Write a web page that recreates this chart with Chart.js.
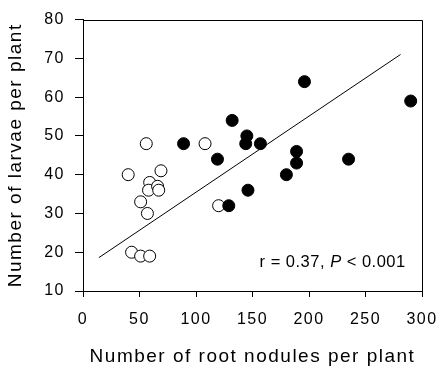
<!DOCTYPE html>
<html>
<head>
<meta charset="utf-8">
<script src="https://cdn.jsdelivr.net/npm/chart.js@4"></script>
<style>
  html, body { margin: 0; padding: 0; background: #fff; }
  canvas { display: block; }
</style>
</head>
<body>
<canvas id="nodChart" width="437" height="370"></canvas>
<script>
// open circles
const openX = [56, 108, 40, 69, 59, 58, 66, 67, 51, 57, 120, 43, 51, 59];
const openY = [48, 48, 40, 41, 38, 36, 37, 36, 33, 30, 32, 20, 19, 19];
// filled circles
const filledX = [89, 119, 132, 145, 144, 157, 129, 146, 196, 189, 189, 180, 235, 290];
const filledY = [48, 44, 54, 50, 48, 48, 32, 36, 64, 46, 43, 40, 44, 59];
// regression line ends
const fitX = [14, 281];
const fitY = [18.6, 71];

const xTicks = [0, 50, 100, 150, 200, 250, 300];
const yTicks = [10, 20, 30, 40, 50, 60, 70, 80];

const FONT = '"Liberation Sans", Arial, sans-serif';

function toPoints(xs, ys) {
    return xs.map((x, i) => ({ x: x, y: ys[i] }));
}

// letter spacing like the scanned figure
const spacingPlugin = {
    id: 'spacing',
    beforeUpdate(chart) { chart.ctx.letterSpacing = '1.5px'; },
    beforeDraw(chart) { chart.ctx.letterSpacing = '1.5px'; }
};

const framePlugin = {
    id: 'frame',
    beforeDatasetsDraw(chart) {
        const a = chart.chartArea;
        const ctx = chart.ctx;
        ctx.save();
        ctx.strokeStyle = '#000';
        ctx.lineWidth = 1;
        ctx.beginPath();
        ctx.moveTo(Math.round(a.left) + 0.5, Math.round(a.top) + 0.5);
        ctx.lineTo(Math.round(a.right) + 0.5, Math.round(a.top) + 0.5);
        ctx.lineTo(Math.round(a.right) + 0.5, Math.round(a.bottom) + 0.5);
        ctx.stroke();
        ctx.restore();
    }
};

const notePlugin = {
    id: 'note',
    afterDraw(chart) {
        const ctx = chart.ctx;
        const xs = chart.scales.x, ys = chart.scales.y;
        const right = xs.getPixelForValue(285.6);
        const base = ys.getPixelForValue(16.1);
        ctx.save();
        ctx.letterSpacing = '0.5px';
        ctx.fillStyle = '#000';
        ctx.textBaseline = 'alphabetic';
        ctx.textAlign = 'left';
        const parts = [
            { t: 'r = 0.37, ', f: '16.5px ' + FONT },
            { t: 'P', f: 'italic 16.5px ' + FONT },
            { t: ' < 0.001', f: '16.5px ' + FONT }
        ];
        let w = 0;
        parts.forEach(p => { ctx.font = p.f; p.w = ctx.measureText(p.t).width; w += p.w; });
        let x = right - w;
        parts.forEach(p => { ctx.font = p.f; ctx.fillText(p.t, x, base); x += p.w; });
        ctx.restore();
    }
};

new Chart(document.getElementById('nodChart').getContext('2d'), {
    type: 'scatter',
    data: {
        datasets: [
            {
                data: toPoints(filledX, filledY),
                backgroundColor: '#000',
                borderColor: '#000',
                borderWidth: 1,
                pointRadius: 6,
                order: 1
            },
            {
                data: toPoints(openX, openY),
                backgroundColor: '#fff',
                borderColor: '#000',
                borderWidth: 1,
                pointRadius: 6,
                order: 2
            },
            {
                data: toPoints(fitX, fitY),
                showLine: true,
                borderColor: '#000',
                borderWidth: 1,
                pointRadius: 0,
                order: 3
            }
        ]
    },
    options: {
        responsive: false,
        animation: false,
        layout: { padding: { top: 17, right: 15, left: 0, bottom: 0 } },
        plugins: {
            legend: { display: false },
            tooltip: { enabled: false }
        },
        scales: {
            x: {
                type: 'linear',
                min: 0,
                max: 300,
                afterBuildTicks: s => { s.ticks = xTicks.map(v => ({ value: v })); },
                afterFit: s => { s.height = 79; s.paddingLeft = 0; s.paddingRight = 0; },
                ticks: { color: '#000', padding: 13, font: { family: FONT, size: 16 } },
                grid: { drawOnChartArea: false, color: '#000', tickLength: 6, lineWidth: 1 },
                border: { display: true, color: '#000', width: 1 },
                title: {
                    display: true,
                    text: 'Number of root nodules per plant',
                    color: '#000',
                    font: { family: FONT, size: 19 },
                    padding: { top: 0, bottom: 2 }
                }
            },
            y: {
                type: 'linear',
                min: 10,
                max: 80,
                afterBuildTicks: s => { s.ticks = yTicks.map(v => ({ value: v })); },
                afterFit: s => { s.width = 83; },
                ticks: { color: '#000', padding: 10, font: { family: FONT, size: 16 } },
                grid: { drawOnChartArea: false, color: '#000', tickLength: 8, lineWidth: 1 },
                border: { display: true, color: '#000', width: 1 },
                title: {
                    display: true,
                    text: 'Number of larvae per plant',
                    color: '#000',
                    font: { family: FONT, size: 19 },
                    padding: { top: 4, bottom: 0 }
                }
            }
        }
    },
    plugins: [spacingPlugin, framePlugin, notePlugin]
});
</script>
</body>
</html>
